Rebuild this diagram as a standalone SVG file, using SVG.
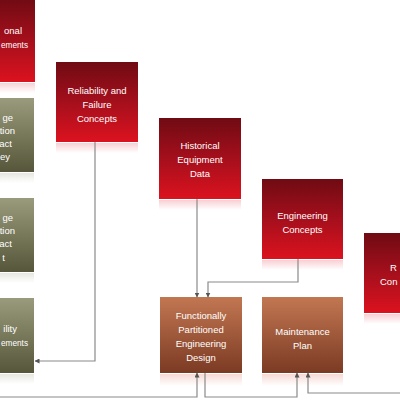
<svg xmlns="http://www.w3.org/2000/svg" width="400" height="400" viewBox="0 0 400 400">
<defs>
<linearGradient id="gRed" x1="0" y1="0" x2="0" y2="1">
<stop offset="0" stop-color="#6f0b13"/>
<stop offset="0.5" stop-color="#a50f1c"/>
<stop offset="1" stop-color="#dc121f"/>
</linearGradient>
<linearGradient id="gOlive" x1="0" y1="0" x2="0" y2="1">
<stop offset="0" stop-color="#9a9a7c"/>
<stop offset="1" stop-color="#56563a"/>
</linearGradient>
<linearGradient id="gBrown" x1="0" y1="0" x2="0" y2="1">
<stop offset="0" stop-color="#c27752"/>
<stop offset="1" stop-color="#7b3a23"/>
</linearGradient>
<linearGradient id="gRefRed" x1="0" y1="0" x2="0" y2="1">
<stop offset="0" stop-color="#e04050" stop-opacity="0.25"/>
<stop offset="1" stop-color="#e04050" stop-opacity="0"/>
</linearGradient>
<linearGradient id="gRefOlive" x1="0" y1="0" x2="0" y2="1">
<stop offset="0" stop-color="#a0a080" stop-opacity="0.25"/>
<stop offset="1" stop-color="#a0a080" stop-opacity="0"/>
</linearGradient>
<linearGradient id="gRefBrown" x1="0" y1="0" x2="0" y2="1">
<stop offset="0" stop-color="#e08070" stop-opacity="0.3"/>
<stop offset="1" stop-color="#e08070" stop-opacity="0"/>
</linearGradient>
<marker id="arr" markerWidth="5" markerHeight="5" refX="4.5" refY="2.5" orient="auto" markerUnits="userSpaceOnUse">
<path d="M0,0 L5,2.5 L0,5 z" fill="#555"/>
</marker>
</defs>
<style>
.red{fill:url(#gRed);}
.olive{fill:url(#gOlive);}
.brown{fill:url(#gBrown);}
.t{font-family:"Liberation Sans",Arial,sans-serif;font-size:9.5px;fill:#ffffff;text-anchor:middle;}
.te{text-anchor:end;}
.ts{text-anchor:start;}
.c{fill:none;stroke:#8a8a8a;stroke-width:1.2;marker-end:url(#arr);}
</style>
<rect width="400" height="400" fill="#ffffff"/>

<g id="operational-requirements">
<rect class="red" x="-47" y="-2" width="82" height="84"/>
<rect x="-47" y="83" width="82" height="10" fill="url(#gRefRed)"/>
<text class="t te" x="22" y="33.5">onal</text>
<text class="t ts" x="1" y="47.5" textLength="27" lengthAdjust="spacingAndGlyphs">ements</text>
</g>

<g id="box-olive-1">
<rect class="olive" x="-47" y="98" width="81" height="74"/>
<rect x="-47" y="173" width="81" height="10" fill="url(#gRefOlive)"/>
<text class="t te" x="13" y="120.5">ge</text>
<text class="t te" x="15" y="133.5">tion</text>
<text class="t te" x="12" y="146.5">act</text>
<text class="t te" x="10" y="160">ey</text>
</g>

<g id="box-olive-2">
<rect class="olive" x="-47" y="198" width="81" height="74"/>
<rect x="-47" y="273" width="81" height="10" fill="url(#gRefOlive)"/>
<text class="t te" x="13" y="220.5">ge</text>
<text class="t te" x="15" y="233.5">tion</text>
<text class="t te" x="12" y="247">act</text>
<text class="t te" x="5" y="261">t</text>
</g>

<g id="box-olive-3">
<rect class="olive" x="-47" y="298" width="81" height="75"/>
<rect x="-47" y="374" width="81" height="10" fill="url(#gRefOlive)"/>
<text class="t te" x="17" y="331.5">ility</text>
<text class="t ts" x="1" y="345.5" textLength="27" lengthAdjust="spacingAndGlyphs">ements</text>
</g>

<g id="reliability-failure-concepts">
<rect class="red" x="56" y="62" width="82" height="80"/>
<rect x="56" y="143" width="82" height="10" fill="url(#gRefRed)"/>
<text class="t" x="97" y="93.5">Reliability and</text>
<text class="t" x="97" y="107.5">Failure</text>
<text class="t" x="97" y="121.5">Concepts</text>
</g>

<g id="historical-equipment-data">
<rect class="red" x="159" y="118" width="82" height="81"/>
<rect x="159" y="200" width="82" height="10" fill="url(#gRefRed)"/>
<text class="t" x="200" y="148.5">Historical</text>
<text class="t" x="200" y="162.5">Equipment</text>
<text class="t" x="200" y="176.5">Data</text>
</g>

<g id="engineering-concepts">
<rect class="red" x="262" y="179" width="81" height="80"/>
<rect x="262" y="260" width="81" height="10" fill="url(#gRefRed)"/>
<text class="t" x="302.5" y="218.5">Engineering</text>
<text class="t" x="302.5" y="232.5">Concepts</text>
</g>

<g id="right-concepts">
<rect class="red" x="364" y="233" width="50" height="80"/>
<rect x="364" y="314" width="50" height="10" fill="url(#gRefRed)"/>
<text class="t ts" x="390" y="270.5">R</text>
<text class="t ts" x="380" y="284.5">Con</text>
</g>

<g id="functionally-partitioned-engineering-design">
<rect class="brown" x="160" y="297" width="82" height="76"/>
<rect x="160" y="374" width="82" height="12" fill="url(#gRefBrown)"/>
<text class="t" x="201" y="318.5">Functionally</text>
<text class="t" x="201" y="332.5">Partitioned</text>
<text class="t" x="201" y="346.5">Engineering</text>
<text class="t" x="201" y="360.5">Design</text>
</g>

<g id="maintenance-plan">
<rect class="brown" x="262" y="297" width="81" height="76"/>
<rect x="262" y="374" width="81" height="12" fill="url(#gRefBrown)"/>
<text class="t" x="302.5" y="334.5">Maintenance</text>
<text class="t" x="302.5" y="348.5">Plan</text>
</g>

<g id="connectors">
<path class="c" d="M95,142 V361 H35"/>
<path class="c" d="M197,199 V297"/>
<path class="c" d="M298,259 V282 H208 V297"/>
<path class="c" d="M0,397 H197 V373"/>
<path class="c" d="M205,373 V397 H297 V373"/>
<path class="c" d="M400,393 H308 V373"/>
</g>
</svg>
